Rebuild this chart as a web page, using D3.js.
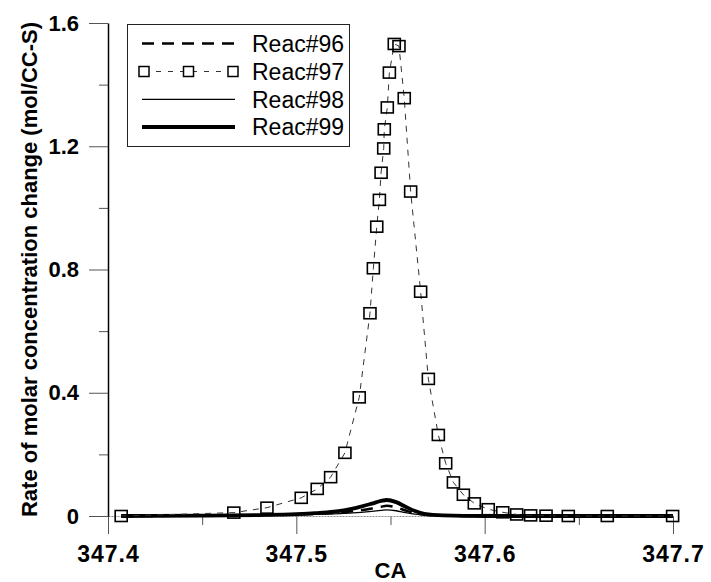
<!DOCTYPE html>
<html>
<head>
<meta charset="utf-8">
<script src="https://cdn.jsdelivr.net/npm/d3@7"></script>
<style>
  html, body { margin: 0; padding: 0; background: #fff; }
  svg { display: block; }
  text { font-family: "Liberation Sans", Arial, sans-serif; fill: #000; }
</style>
</head>
<body>
<svg id="chart" width="711" height="582"></svg>
<script>
// ---------------- data ----------------
const seriesNames = ["Reac#96", "Reac#97", "Reac#98", "Reac#99"];

// Reac#97 (square markers)
const x97 = [347.407, 347.4668, 347.4844, 347.5026, 347.5111, 347.5182, 347.5258, 347.5334,
             347.5391, 347.5409, 347.5427, 347.5441, 347.5450, 347.5464, 347.5467, 347.5483,
             347.5494, 347.5520, 347.5545, 347.5573, 347.5607, 347.5660, 347.5701, 347.5754,
             347.5793, 347.5834, 347.5887, 347.5945, 347.6019, 347.6096, 347.6170, 347.6244,
             347.6326, 347.6444, 347.6651, 347.6998];
const y97 = [0.000, 0.011, 0.027, 0.059, 0.088, 0.126, 0.205, 0.385,
             0.658, 0.804, 0.939, 1.026, 1.114, 1.193, 1.255, 1.326,
             1.439, 1.532, 1.525, 1.356, 1.053, 0.728, 0.445, 0.263,
             0.171, 0.109, 0.069, 0.041, 0.022, 0.012, 0.005, 0.002,
             0.001, 0.000, 0.000, 0.000];

// Reac#96, #98, #99 (lines)
const xLine = [347.407, 347.45, 347.48, 347.50, 347.51, 347.52, 347.53, 347.54, 347.545,
               347.548, 347.553, 347.558, 347.563, 347.568, 347.578, 347.60, 347.65, 347.70];
const y96 = [0, 0.001, 0.003, 0.005, 0.007, 0.010, 0.015, 0.024, 0.030,
             0.033, 0.028, 0.018, 0.009, 0.004, 0.001, 0, 0, 0];
const y98 = [0, 0.001, 0.002, 0.004, 0.005, 0.007, 0.010, 0.015, 0.018,
             0.020, 0.017, 0.011, 0.006, 0.003, 0.001, 0, 0, 0];
const y99 = [0, 0.001, 0.003, 0.006, 0.009, 0.014, 0.024, 0.040, 0.049,
             0.052, 0.045, 0.030, 0.016, 0.007, 0.002, 0, 0, 0];

const xTicks = [347.4, 347.5, 347.6, 347.7];
const xMinorTicks = [347.45, 347.55, 347.65];
const yTicks = [0, 0.4, 0.8, 1.2, 1.6];
const yMinorTicks = [0.2, 0.6, 1.0, 1.4];
const xTitle = "CA";
const yTitle = "Rate of molar concentration change (mol/CC-S)";

// ---------------- chart ----------------
const svg = d3.select("#chart");
const x = d3.scaleLinear().domain([347.4, 347.7]).range([108, 673]);
const y = d3.scaleLinear().domain([0, 1.6]).range([516, 23]);

// minor ticks
svg.append("g").attr("transform", `translate(0,${y(0)})`)
  .call(d3.axisBottom(x).tickValues(xMinorTicks).tickSize(9).tickFormat(""))
  .call(g => g.select(".domain").remove())
  .selectAll("line").attr("stroke", "#555").attr("stroke-width", 1);
svg.append("g").attr("transform", `translate(${x(347.4)},0)`)
  .call(d3.axisLeft(y).tickValues(yMinorTicks).tickSize(9).tickFormat(""))
  .call(g => g.select(".domain").remove())
  .selectAll("line").attr("stroke", "#555").attr("stroke-width", 1);

// x axis
const gx = svg.append("g").attr("transform", `translate(0,${y(0)})`)
  .call(d3.axisBottom(x).tickValues(xTicks).tickSize(18).tickSizeOuter(0)
        .tickPadding(12).tickFormat(d3.format(".1f")));
gx.select(".domain").attr("stroke", "#888").attr("stroke-width", 1).attr("stroke-dasharray", "2,1");
gx.selectAll(".tick line").attr("stroke", "#555").attr("stroke-width", 1);
gx.selectAll(".tick text").attr("font-size", 23).attr("font-weight", "bold")
  .attr("letter-spacing", "1px").attr("fill", "#000")
  .style("font-family", "'Liberation Sans', Arial, sans-serif");

// y axis
const gy = svg.append("g").attr("transform", `translate(${x(347.4)},0)`)
  .call(d3.axisLeft(y).tickValues(yTicks).tickSize(19).tickSizeOuter(0)
        .tickPadding(10).tickFormat(d => d === 0 ? "0" : d3.format(".1f")(d)));
gy.select(".domain").attr("stroke", "#000").attr("stroke-width", 1.5);
gy.selectAll(".tick line").attr("stroke", "#555").attr("stroke-width", 1);
gy.selectAll(".tick text").attr("font-size", 22).attr("font-weight", "bold").attr("fill", "#000")
  .style("font-family", "'Liberation Sans', Arial, sans-serif");

// axis titles
svg.append("text").attr("x", (x.range()[0] + x.range()[1]) / 2).attr("y", 578)
  .attr("text-anchor", "middle").attr("font-size", 22).attr("font-weight", "bold").text(xTitle);
svg.append("text").attr("transform", `translate(37,${(y.range()[0] + y.range()[1]) / 2}) rotate(-90)`)
  .attr("text-anchor", "middle").attr("font-size", 22).attr("font-weight", "bold").text(yTitle);

// lines
const lineGen = ys => d3.line().x((d, i) => x(xLine[i])).y((d, i) => y(ys[i])).curve(d3.curveMonotoneX)(ys);

svg.append("path").attr("d", lineGen(y98)).attr("fill", "none")
  .attr("stroke", "#000").attr("stroke-width", 1.3);
svg.append("path").attr("d", lineGen(y96)).attr("fill", "none")
  .attr("stroke", "#000").attr("stroke-width", 2.5).attr("stroke-dasharray", "12,8");
svg.append("path").attr("d", lineGen(y99)).attr("fill", "none")
  .attr("stroke", "#000").attr("stroke-width", 3.8);

// Reac#97 dashed line + markers
const pts97 = x97.map((v, i) => [v, y97[i]]);
svg.append("path")
  .attr("d", d3.line().x(d => x(d[0])).y(d => y(d[1]))(pts97))
  .attr("fill", "none").attr("stroke", "#333").attr("stroke-width", 1)
  .attr("stroke-dasharray", "6,6");
svg.append("g").selectAll("rect").data(pts97).join("rect")
  .attr("x", d => x(d[0]) - 6).attr("y", d => y(d[1]) - 5.5)
  .attr("width", 12).attr("height", 11)
  .attr("fill", "none").attr("stroke", "#000").attr("stroke-width", 1.6);

// legend
const lg = svg.append("g");
lg.append("rect").attr("x", 127.5).attr("y", 24.5).attr("width", 222).attr("height", 122)
  .attr("fill", "#fff").attr("stroke", "#222").attr("stroke-width", 1);
const rowY = [43.5, 71.5, 99.3, 127];
const lx0 = 142, lx1 = 235;
// 96
lg.append("line").attr("x1", lx0).attr("x2", lx1).attr("y1", rowY[0]).attr("y2", rowY[0])
  .attr("stroke", "#000").attr("stroke-width", 2.6).attr("stroke-dasharray", "12,8");
// 97
lg.append("line").attr("x1", lx0 + 2).attr("x2", lx1 - 2).attr("y1", rowY[1]).attr("y2", rowY[1])
  .attr("stroke", "#333").attr("stroke-width", 1).attr("stroke-dasharray", "5,7");
[lx0 + 2, (lx0 + lx1) / 2, lx1 - 2].forEach(cx => {
  lg.append("rect").attr("x", cx - 5).attr("y", rowY[1] - 5).attr("width", 10).attr("height", 10)
    .attr("fill", "#fff").attr("stroke", "#000").attr("stroke-width", 1.5);
});
// 98
lg.append("line").attr("x1", lx0).attr("x2", lx1).attr("y1", rowY[2]).attr("y2", rowY[2])
  .attr("stroke", "#000").attr("stroke-width", 1.3);
// 99
lg.append("line").attr("x1", lx0).attr("x2", lx1).attr("y1", rowY[3]).attr("y2", rowY[3])
  .attr("stroke", "#000").attr("stroke-width", 3.8);
seriesNames.forEach((n, i) => {
  lg.append("text").attr("x", 252).attr("y", rowY[i]).attr("dy", "0.36em")
    .attr("font-size", 23).text(n);
});
</script>
</body>
</html>
